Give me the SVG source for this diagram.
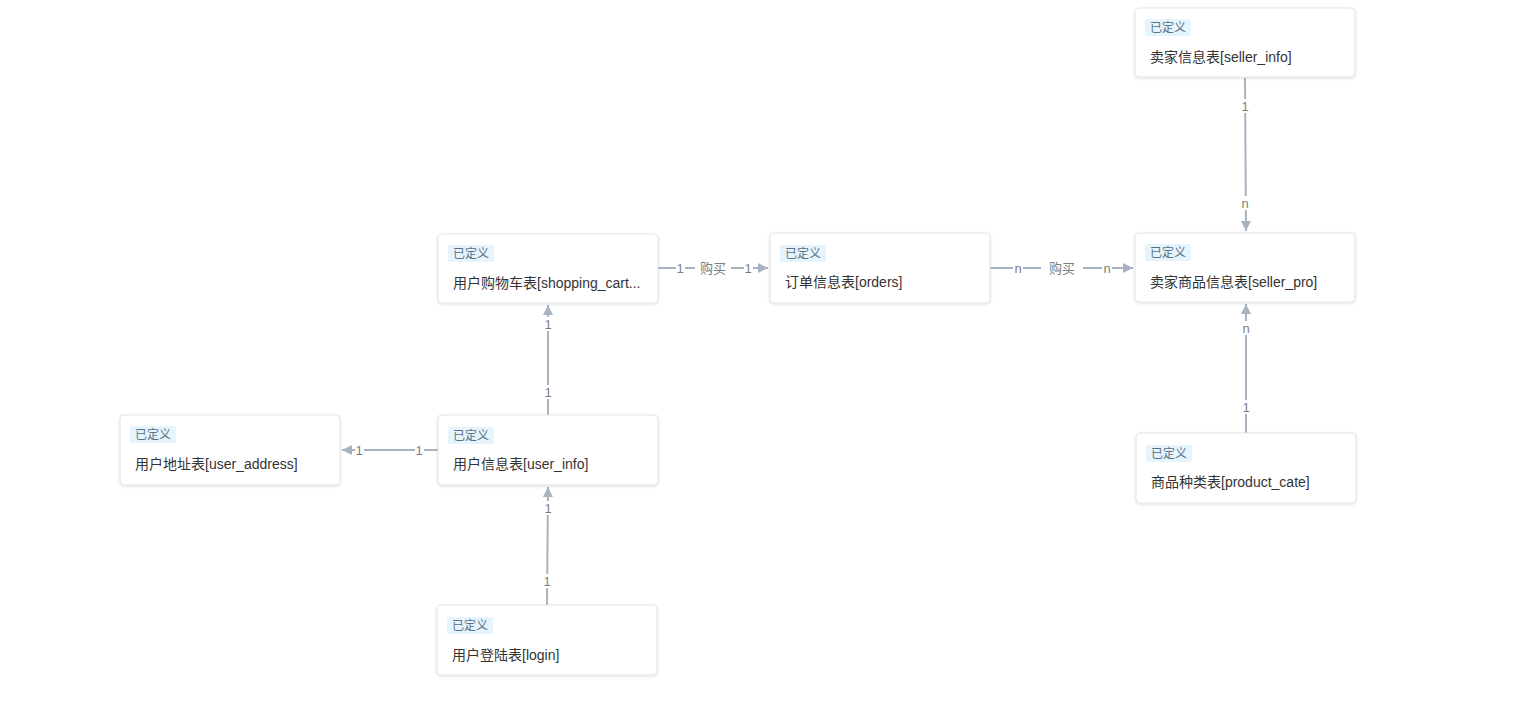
<svg xmlns="http://www.w3.org/2000/svg" width="1539" height="716" viewBox="0 0 1539 716">
<style>
.box{fill:#fff;stroke:#e1e4e8;stroke-width:1;filter:url(#sh)}
.tagbg{fill:#e6f4fd}
.tag{font-family:"Noto Sans CJK SC","Liberation Sans",sans-serif;font-size:12px;fill:#5a7184}
.name{font-family:"Liberation Sans","Noto Sans CJK SC",sans-serif;font-size:14px;fill:#333}
.ln{stroke:#a9b3bf;stroke-width:2;fill:none}
.lb{font-family:"Liberation Sans","Noto Sans CJK SC",sans-serif;font-size:13px;fill:#7a7f87;text-anchor:middle;dominant-baseline:central}
.gap{fill:#fff}
</style>
<defs>
<filter id="sh" x="-10%" y="-20%" width="120%" height="140%">
<feDropShadow dx="0" dy="1" stdDeviation="1.5" flood-color="#000" flood-opacity="0.12"/>
</filter>
<marker id="ar" viewBox="0 0 10 10" refX="10" refY="5" markerWidth="5" markerHeight="5" orient="auto">
<path d="M0,0 L10,5 L0,10 z" fill="#a9b3bf"/>
</marker>
</defs>
<rect width="1539" height="716" fill="#fff"/>
<g id="connectors">
<line class="ln" x1="658" y1="268" x2="768" y2="268" marker-end="url(#ar)"/>
<rect class="gap" x="676" y="260" width="9" height="16"/><text class="lb" x="680" y="268">1</text>
<rect class="gap" x="695" y="260" width="36" height="16"/><text class="lb" x="713" y="268">购买</text>
<rect class="gap" x="744" y="260" width="9" height="16"/><text class="lb" x="748" y="268">1</text>
<line class="ln" x1="990" y1="268" x2="1133" y2="268" marker-end="url(#ar)"/>
<rect class="gap" x="1013" y="260" width="10" height="16"/><text class="lb" x="1018" y="268">n</text>
<rect class="gap" x="1041" y="260" width="42" height="16"/><text class="lb" x="1062" y="268">购买</text>
<rect class="gap" x="1102" y="260" width="10" height="16"/><text class="lb" x="1107" y="268">n</text>
<line class="ln" x1="1245" y1="78" x2="1246" y2="231" marker-end="url(#ar)"/>
<rect class="gap" x="1239" y="99" width="14" height="14"/><text class="lb" x="1245" y="106">1</text>
<rect class="gap" x="1239" y="196" width="14" height="14"/><text class="lb" x="1245" y="203">n</text>
<line class="ln" x1="1246" y1="433" x2="1246" y2="304" marker-end="url(#ar)"/>
<rect class="gap" x="1239" y="321" width="14" height="14"/><text class="lb" x="1246" y="328">n</text>
<rect class="gap" x="1239" y="400" width="14" height="14"/><text class="lb" x="1246" y="407">1</text>
<line class="ln" x1="548" y1="415" x2="548" y2="305" marker-end="url(#ar)"/>
<rect class="gap" x="541" y="317" width="14" height="14"/><text class="lb" x="548" y="324">1</text>
<rect class="gap" x="541" y="385" width="14" height="14"/><text class="lb" x="548" y="392">1</text>
<line class="ln" x1="438" y1="450" x2="342" y2="450" marker-end="url(#ar)"/>
<rect class="gap" x="355" y="442" width="9" height="16"/><text class="lb" x="359" y="450">1</text>
<rect class="gap" x="415" y="442" width="9" height="16"/><text class="lb" x="419" y="450">1</text>
<line class="ln" x1="547" y1="605" x2="548" y2="487" marker-end="url(#ar)"/>
<rect class="gap" x="541" y="501" width="14" height="14"/><text class="lb" x="548" y="508">1</text>
<rect class="gap" x="540" y="574" width="14" height="14"/><text class="lb" x="547" y="581">1</text>
</g>
<g id="seller_info">
<rect class="box" x="1135" y="8" width="220" height="69" rx="4"/>
<rect class="tagbg" x="1145" y="19" width="46" height="17" rx="2"/>
<text class="tag" x="1150" y="32">已定义</text>
<text class="name" x="1150" y="62">卖家信息表[seller_info]</text>
</g>
<g id="shopping_cart">
<rect class="box" x="438" y="234" width="220" height="69" rx="4"/>
<rect class="tagbg" x="448" y="245" width="46" height="17" rx="2"/>
<text class="tag" x="453" y="258">已定义</text>
<text class="name" x="453" y="288">用户购物车表[shopping_cart...</text>
</g>
<g id="orders">
<rect class="box" x="770" y="233" width="220" height="70" rx="4"/>
<rect class="tagbg" x="780" y="245" width="46" height="17" rx="2"/>
<text class="tag" x="785" y="258">已定义</text>
<text class="name" x="785" y="287">订单信息表[orders]</text>
</g>
<g id="seller_pro">
<rect class="box" x="1135" y="233" width="220" height="69" rx="4"/>
<rect class="tagbg" x="1145" y="244" width="46" height="17" rx="2"/>
<text class="tag" x="1150" y="257">已定义</text>
<text class="name" x="1150" y="287">卖家商品信息表[seller_pro]</text>
</g>
<g id="user_address">
<rect class="box" x="120" y="415" width="220" height="70" rx="4"/>
<rect class="tagbg" x="130" y="426" width="46" height="17" rx="2"/>
<text class="tag" x="135" y="439">已定义</text>
<text class="name" x="135" y="469">用户地址表[user_address]</text>
</g>
<g id="user_info">
<rect class="box" x="438" y="415" width="220" height="70" rx="4"/>
<rect class="tagbg" x="448" y="427" width="46" height="17" rx="2"/>
<text class="tag" x="453" y="440">已定义</text>
<text class="name" x="453" y="469">用户信息表[user_info]</text>
</g>
<g id="product_cate">
<rect class="box" x="1136" y="433" width="220" height="70" rx="4"/>
<rect class="tagbg" x="1146" y="445" width="46" height="17" rx="2"/>
<text class="tag" x="1151" y="458">已定义</text>
<text class="name" x="1151" y="487">商品种类表[product_cate]</text>
</g>
<g id="login">
<rect class="box" x="437" y="605" width="220" height="70" rx="4"/>
<rect class="tagbg" x="447" y="617" width="46" height="17" rx="2"/>
<text class="tag" x="452" y="630">已定义</text>
<text class="name" x="452" y="660">用户登陆表[login]</text>
</g>
</svg>
